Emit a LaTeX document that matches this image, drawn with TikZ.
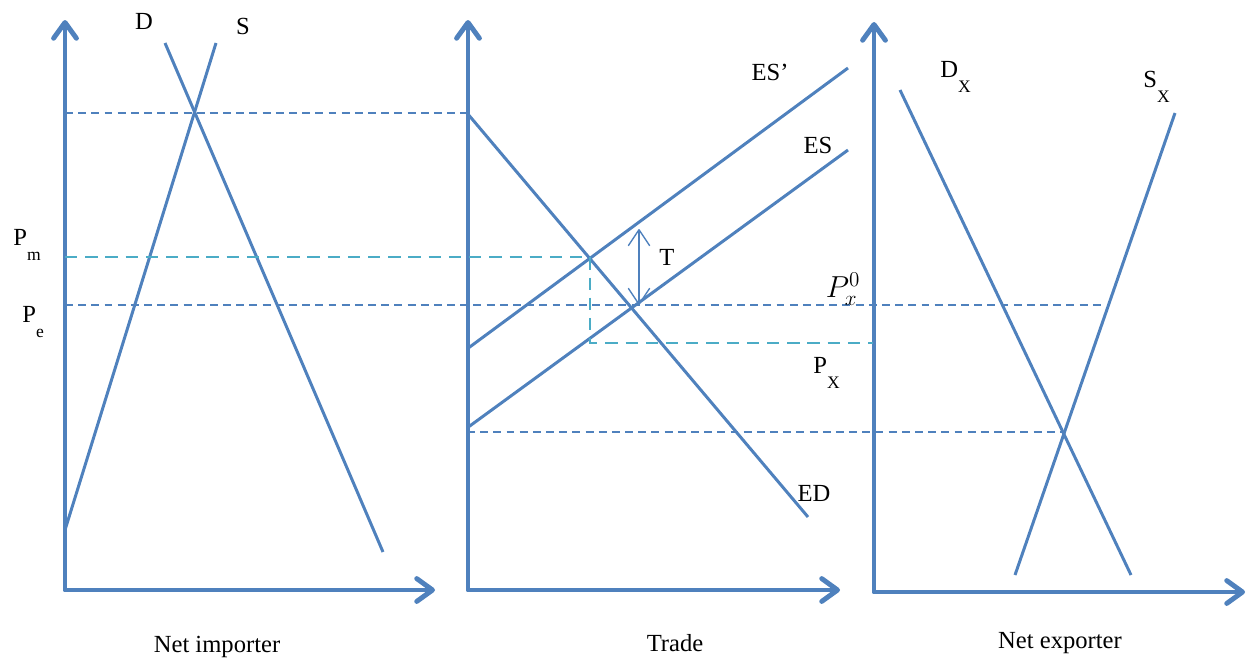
\documentclass[tikz,border=0pt]{standalone}
\usepackage{fontspec}
\setmainfont{Liberation Serif}
\usetikzlibrary{arrows.meta}

\definecolor{curveblue}{HTML}{4F81BD}
\definecolor{guidecyan}{HTML}{4BACC6}

\newcommand{\sublbl}[2]{#1\raisebox{-9pt}{\fontsize{10}{12}\selectfont #2}}

\begin{document}
\begin{tikzpicture}[
  x=0.02cm, y=-0.02cm,
  axis/.style={curveblue, line width=2.8pt, line join=round,
               {Straight Barb[length=9pt, width=13pt, round]}-{Straight Barb[length=9pt, width=13pt, round]}},
  curve/.style={curveblue, line width=1.7pt},
  guide/.style={curveblue, line width=0.9pt, dash pattern=on 4.5pt off 3pt},
  tguide/.style={guidecyan, line width=1.1pt, dash pattern=on 7pt off 4.5pt},
  tarr/.style={curveblue, line width=0.8pt,
               {Straight Barb[length=9pt, width=12pt, round]}-{Straight Barb[length=9pt, width=12pt, round]}},
  lbl/.style={font=\fontsize{14}{17}\selectfont, inner sep=0pt}
]
\useasboundingbox (0,0) rectangle (1247,666);

%% Net importer
\coordinate (imp y) at (65,20);
\coordinate (imp o) at (65,590);
\coordinate (imp x) at (435,590);
\coordinate (d top) at (165,43);
\coordinate (d bot) at (383,552);
\coordinate (s top) at (216,43);
\coordinate (s bot) at (65,530);
\draw[axis] (imp y) -- (imp o) -- (imp x);
\draw[curve] (d top) -- (d bot);
\draw[curve] (s top) -- (s bot);

%% Trade
\coordinate (tr y) at (468,20);
\coordinate (tr o) at (468,590);
\coordinate (tr x) at (840,590);
\coordinate (ed top) at (467,113);
\coordinate (ed bot) at (808,517);
\coordinate (esp lo) at (467,349);
\coordinate (esp hi) at (848,68);
\coordinate (es lo) at (467,428);
\coordinate (es hi) at (848,150);
\draw[axis] (tr y) -- (tr o) -- (tr x);
\draw[curve] (ed top) -- (ed bot);
\draw[curve] (esp lo) -- (esp hi);
\draw[curve] (es lo) -- (es hi);

%% Net exporter
\coordinate (exp y) at (874,22);
\coordinate (exp o) at (874,592);
\coordinate (exp x) at (1245,592);
\coordinate (dx top) at (900,90);
\coordinate (dx bot) at (1131,575);
\coordinate (sx top) at (1175,113);
\coordinate (sx bot) at (1015,575);
\draw[axis] (exp y) -- (exp o) -- (exp x);
\draw[curve] (dx top) -- (dx bot);
\draw[curve] (sx top) -- (sx bot);

%% Price guides
\coordinate (aut imp) at (65,113);
\coordinate (aut imp t) at (467,113);
\coordinate (pm a) at (65,257);
\coordinate (pm b) at (590,257);
\coordinate (px a) at (590,343);
\coordinate (px b) at (873,343);
\coordinate (pe a) at (65,305);
\coordinate (pe b) at (1105,305);
\coordinate (aut exp t) at (467,432);
\coordinate (aut exp) at (1064,432);
\draw[guide] (aut imp) -- (aut imp t);
\draw[guide] (pe a) -- (pe b);
\draw[guide] (aut exp t) -- (aut exp);
\draw[tguide] (pm a) -- (pm b) -- (px a) -- (px b);

%% Tariff wedge
\coordinate (t top) at (639,229);
\coordinate (t bot) at (639,305);
\draw[tarr] (t top) -- (t bot);

%% Labels
\node[lbl] (lbl d) at (144,21) {D};
\node[lbl] (lbl s) at (243,26) {S};
\node[lbl, anchor=base west] (lbl pm) at (13,245) {\sublbl{P}{m}};
\node[lbl, anchor=base west] (lbl pe) at (22,322) {\sublbl{P}{e}};
\node[lbl] (lbl esp) at (770,72) {ES’};
\node[lbl] (lbl es) at (818,145) {ES};
\node[lbl] (lbl t) at (667,257) {T};
\node[lbl, font=\fontsize{17}{20}\selectfont] (lbl px0) at (843,289) {$P_x^0$};
\node[lbl, anchor=base west] (lbl px) at (813,373) {\sublbl{P}{X}};
\node[lbl] (lbl ed) at (814,493) {ED};
\node[lbl, anchor=base west] (lbl dx) at (940,77) {\sublbl{D}{X}};
\node[lbl, anchor=base west] (lbl sx) at (1143,87) {\sublbl{S}{X}};
\node[lbl] (cap imp) at (217,647) {Net importer};
\node[lbl] (cap tr) at (675,643) {Trade};
\node[lbl] (cap exp) at (1060,643) {Net exporter};
\end{tikzpicture}
\end{document}
